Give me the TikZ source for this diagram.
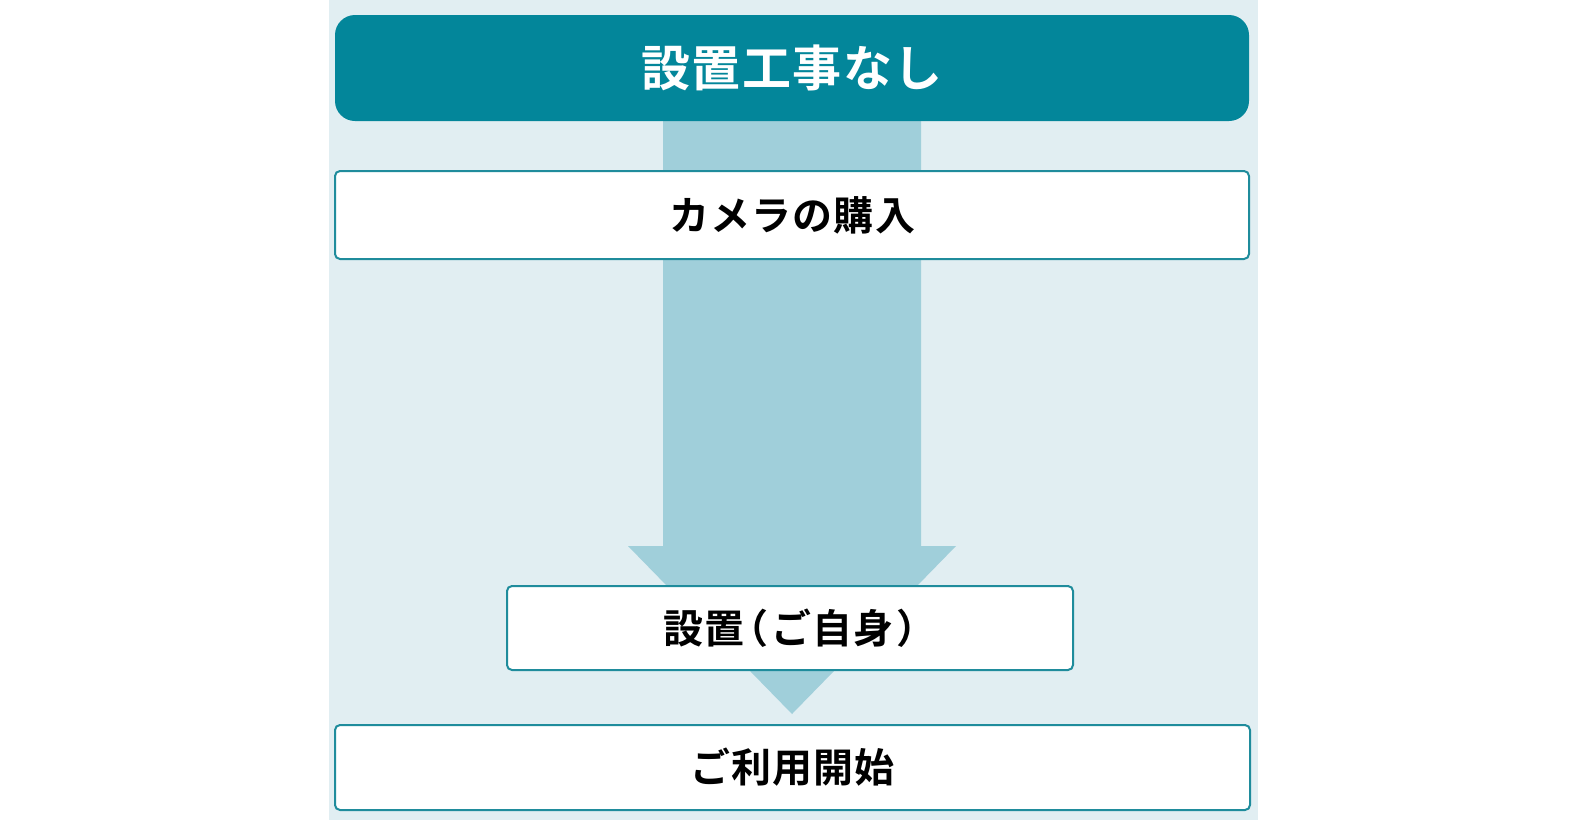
\documentclass[tikz,border=0pt]{standalone}
\usepackage{fontspec}
\newfontfamily\cjk{Noto Sans CJK JP}[UprightFont=* Bold, LetterSpace=3]
\newfontfamily\cjkh{Noto Sans CJK JP}[UprightFont=* Bold, RawFeature=+halt]
\definecolor{panelbg}{HTML}{E1EEF2}
\definecolor{headbg}{HTML}{03869A}
\definecolor{arrowbg}{HTML}{A0CFDA}
\definecolor{boxline}{HTML}{1F8C9C}
\tikzset{
  headbox/.style={fill=headbg, rounded corners=20pt, inner sep=0pt,
    font=\cjk\fontsize{49}{56}\selectfont, text=white},
  stepbox/.style={fill=white, draw=boxline, line width=2pt, rounded corners=5pt,
    inner sep=0pt, font=\cjk\fontsize{40}{48}\selectfont, text=black},
}
\begin{document}
\begin{tikzpicture}[x=1pt,y=-1pt]
\useasboundingbox (0,0) rectangle (1588,820);
% panel
\fill[panelbg] (329,0) rectangle (1258,820);
% big arrow behind boxes
\coordinate (sl) at (663,121);
\coordinate (sr) at (921,121);
\coordinate (tip) at (792,714);
\fill[arrowbg] (sl) -- (sr) -- (921,546) -- (956,546) -- (tip) -- (628,546) -- (663,546) -- cycle;
% header
\node[headbox, minimum width=914pt, minimum height=106pt] (head) at (792,68) {設置工事なし};
% steps
\node[stepbox, minimum width=914pt, minimum height=88pt] (s1) at (792,215) {カメラの購入};
\node[stepbox, minimum width=566pt, minimum height=84pt] (s2) at (790,628) {設置\kern4pt{\cjkh （}\kern3pt ご自身\kern3pt{\cjkh ）}};
\node[stepbox, minimum width=915pt, minimum height=85pt] (s3) at (792.5,767.5) {ご利用開始};
\end{tikzpicture}
\end{document}
